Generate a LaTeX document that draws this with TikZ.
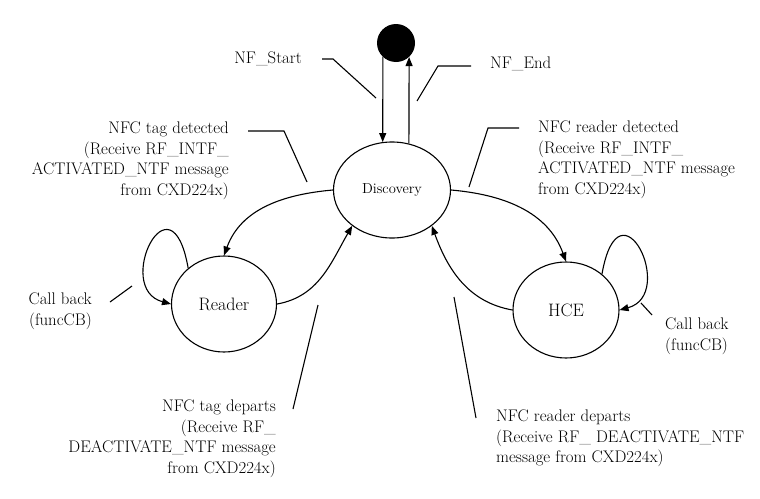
\documentclass[tikz,border=0pt]{standalone}
\usepackage{tikz}
\usetikzlibrary{positioning, shapes.geometric, arrows.meta}

\tikzset{
  state/.style = {draw, ellipse, line width=1.1pt, inner sep=0pt, font=\fontsize{18}{21}\selectfont},
  note/.style = {inner sep=0pt, font=\fontsize{16.8}{20.5}\selectfont},
  trans/.style = {line width=1.1pt, -{Triangle[length=9pt,width=7pt]}},
  lead/.style = {line width=1.1pt},
}

\begin{document}
\begin{tikzpicture}[x=1pt, y=1pt]
        \useasboundingbox (0,0) rectangle (760,-498) ;
        \node[state, minimum width=117pt, minimum height=96pt, font=\fontsize{14.5}{17}\selectfont] (disc) at (392,-190) {Discovery} ; %
        \node[circle, fill, minimum size=38pt, inner sep=0pt, on grid, above right = 147pt and 4pt of disc] (init) {} ; %
        \node[state, minimum width=105pt, minimum height=96pt, on grid, below left = 114pt and 168pt of disc] (reader) {Reader} ; %
        \node[state, minimum width=106pt, minimum height=96pt, on grid, below right = 120pt and 174pt of disc] (hce) {HCE} ; %
        %
        \node[note, anchor=east] (l_start) at (302,-59) {NF\_Start} ; %
        \node[note, anchor=west] (l_end) at (490,-64) {NF\_End} ; %
        \node[note, align=right, anchor=north east] (l_tagdet) at (229,-122) {NFC tag detected\\(Receive RF\_INTF\_\\ACTIVATED\_NTF message\\from CXD224x)} ; %
        \node[note, align=left, anchor=north west] (l_rddet) at (538,-121) {NFC reader detected\\(Receive RF\_INTF\_\\ACTIVATED\_NTF message\\from CXD224x)} ; %
        \node[note, align=right, anchor=north east] (l_cbl) at (92,-293) {Call back\\(funcCB)} ; %
        \node[note, align=left, anchor=north west] (l_cbr) at (665,-318) {Call back\\(funcCB)} ; %
        \node[note, align=right, anchor=north east] (l_tagdep) at (276,-400) {NFC tag departs\\(Receive RF\_\\DEACTIVATE\_NTF message\\from CXD224x)} ; %
        \node[note, align=left, anchor=north west] (l_rddep) at (496,-410) {NFC reader departs\\(Receive RF\_ DEACTIVATE\_NTF\\message from CXD224x)} ; %
        %
        \coordinate (p_start) at (376,-98) ; %
        \coordinate (p_end) at (417,-101) ; %
        \coordinate (p_tagdet) at (307,-182) ; %
        \coordinate (p_rddet) at (469,-187) ; %
        \coordinate (p_cbl) at (132,-286) ; %
        \coordinate (p_cbr) at (641,-303) ; %
        \coordinate (p_tagdep) at (318,-305) ; %
        \coordinate (p_rddep) at (454,-297) ; %
        %
        \draw[trans] (init.227) -- (disc.101) ; %
        \draw[trans] (disc.70) -- (init.313) ; %
        \draw[trans] (disc.west) to[out=185, in=70] (reader.north) ; %
        \draw[trans] (reader.east) to[out=10, in=240] (disc.222) ; %
        \draw[trans] (disc.east) to[out=-5, in=110] (hce.north) ; %
        \draw[trans] (hce.west) to[out=170, in=-70] (disc.318) ; %
        \draw[trans] (reader.135) .. controls +(100:100pt) and +(165:60pt) .. (reader.west) ; %
        \draw[trans] (hce.45) .. controls +(80:100pt) and +(15:60pt) .. (hce.east) ; %
        %
        \draw[lead] ([xshift=20pt]l_start.east) -- ++(11pt,0) -- (p_start) ; %
        \draw[lead] ([xshift=-19pt,yshift=-2pt]l_end.west) -- ++(-33pt,0) -- (p_end) ; %
        \draw[lead] ([shift={(19pt,-9pt)}]l_tagdet.north east) -- ++(36pt,0) -- (p_tagdet) ; %
        \draw[lead] ([shift={(-19pt,-7pt)}]l_rddet.north west) -- ++(-31pt,0) -- (p_rddet) ; %
        \draw[lead] ([shift={(18pt,-9pt)}]l_cbl.north east) -- (p_cbl) ; %
        \draw[lead] ([shift={(-13pt,3pt)}]l_cbr.north west) -- (p_cbr) ; %
        \draw[lead] ([shift={(17pt,-9pt)}]l_tagdep.north east) -- (p_tagdep) ; %
        \draw[lead] ([shift={(-20pt,-8pt)}]l_rddep.north west) -- (p_rddep) ; %
\end{tikzpicture}
\end{document}
